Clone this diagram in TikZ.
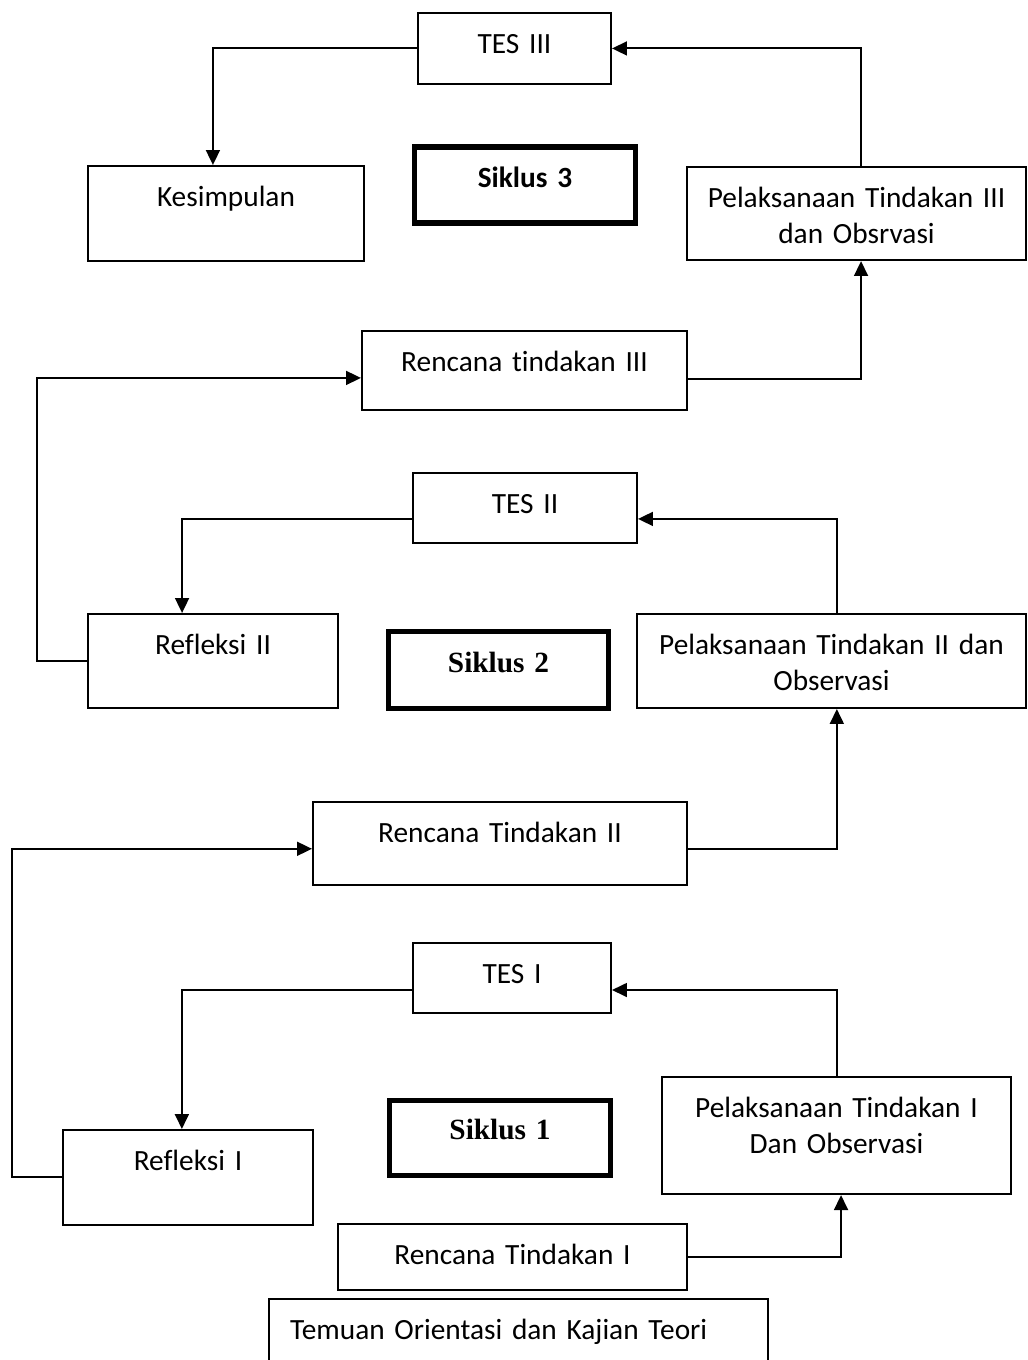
\documentclass[tikz,border=0pt]{standalone}
\usepackage{fontspec}
\setmainfont{Carlito}[Ligatures=NoCommon]
\newfontfamily\timesfont{Liberation Serif}
\usetikzlibrary{arrows.meta, positioning, calc}

\begin{document}
\begin{tikzpicture}[
    x=0.375pt, y=-0.375pt,
    >={Triangle[length=5.6pt,width=5.2pt]},
    font=\fontsize{11pt}{13.4pt}\selectfont,
    box/.style={
        draw,
        line width=0.75pt,
        anchor=north,
        inner xsep=0pt,
        inner ysep=0pt,
        align=center,
        text height=15.2pt
    },
    siklus/.style={
        box,
        line width=1.9pt,
        font=\fontsize{11pt}{13.4pt}\selectfont\bfseries,
        text height=15pt,
        text depth=13.5pt
    },
    conn/.style={
        draw,
        line width=0.75pt,
        ->
    }
]
\useasboundingbox (0,0) rectangle (1027,1360);

% Siklus 3
\node[box, text width=72.4pt, text depth=11.4pt] (tesIII) at (514.5,12) {TES III};
\node[box, text width=103.5pt, text depth=20.4pt] (kesimpulan) at (226,165) {Kesimpulan};
\node[siklus, text width=82.9pt] (siklusIII) at (525,144.5) {Siklus 3};
\node[box, text width=127.1pt, text depth=19.7pt] (pelIII) at (856.5,166) {Pelaksanaan Tindakan III\\dan Obsrvasi};
\node[box, text width=121.9pt, text depth=14.4pt] (renIII) at (524.5,330) {Rencana tindakan III};

% Siklus 2
\node[box, text width=84pt, text depth=11.05pt] (tesII) at (525,472) {TES II};
\node[box, text width=93.75pt, text depth=20.05pt] (refII) at (213,613) {Refleksi II};
\node[siklus, text width=82.5pt, text height=15.4pt, font=\fontsize{11pt}{13.4pt}\selectfont\timesfont\bfseries] (siklusII) at (498.5,628.5) {Siklus 2};
\node[box, text width=145.9pt, text depth=20.05pt] (pelII) at (831.5,613) {Pelaksanaan Tindakan II dan\\Observasi};
\node[box, text width=140.25pt, text depth=15.9pt] (renII) at (500,801) {Rencana Tindakan II};

% Siklus 1
\node[box, text width=74.25pt, text depth=11.05pt] (tesI) at (512,942) {TES I};
\node[box, text width=93.75pt, text depth=20.4pt] (refI) at (188,1129) {Refleksi I};
\node[siklus, text width=82.9pt, text height=14.7pt, font=\fontsize{11pt}{13.4pt}\selectfont\timesfont\bfseries] (siklusI) at (500,1097.5) {Siklus 1};
\node[box, text width=130.9pt, text depth=28.7pt] (pelI) at (836.5,1076) {Pelaksanaan Tindakan I\\Dan Observasi};
\node[box, text width=130.9pt, text depth=9.55pt] (renI) at (512.5,1223) {Rencana Tindakan I};
\node[box, inner xsep=7.9pt, text width=171.3pt, text depth=18.55pt, align=left] (temuan) at (518.5,1298) {Temuan Orientasi dan Kajian Teori};

% arrows
\draw[conn] ([xshift=1.7pt]pelIII.north) |- (tesIII.east);
\draw[conn] (tesIII.west) -| ([xshift=-4.9pt]kesimpulan.north);
\draw[conn] ([yshift=-3.2pt]renIII.east) -| ([xshift=1.7pt]pelIII.south);
\draw[conn] (refII.west) -- ++(-50,0) |- ([yshift=-2.8pt]renIII.west);

\draw[conn] ([xshift=2pt]pelII.north) |- ([yshift=-4.1pt]tesII.east);
\draw[conn] ([yshift=-4.1pt]tesII.west) -| ([xshift=-11.6pt]refII.north);
\draw[conn] ([yshift=-2pt]renII.east) -| ([xshift=2pt]pelII.south);
\draw[conn] (refI.west) -- ++(-50,0) |- ([yshift=-2pt]renII.west);

\draw[conn] (pelI.north) |- ([yshift=-4.5pt]tesI.east);
\draw[conn] ([yshift=-4.5pt]tesI.west) -| ([xshift=-2.3pt]refI.north);
\draw[conn] (renI.east) -| ([xshift=1.7pt]pelI.south);

\end{tikzpicture}
\end{document}
